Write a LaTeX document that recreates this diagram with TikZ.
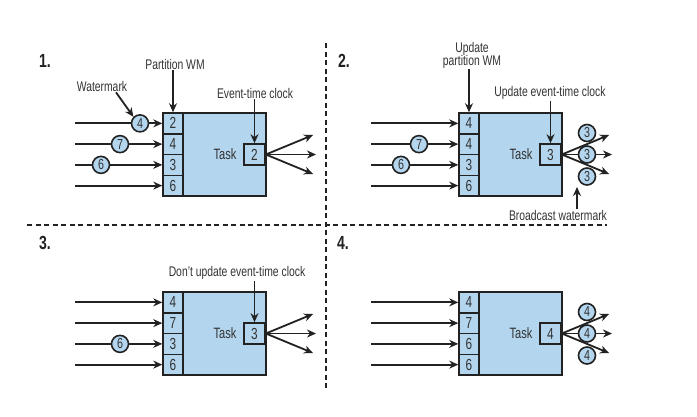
\documentclass[tikz,border=0pt]{standalone}
\usepackage{fontspec}
\setmainfont{Liberation Sans}[FakeStretch=0.74]
\usetikzlibrary{arrows.meta,shadows}
\definecolor{boxblue}{HTML}{B3D5EE}
\definecolor{ink}{HTML}{222222}
\definecolor{txt}{HTML}{333333}
\tikzset{
  lbl/.style={font=\fontsize{14}{14}\selectfont, text=txt, inner sep=1pt, align=center},
  pnum/.style={font=\fontsize{19}{19}\selectfont\bfseries, text=ink, inner sep=0pt},
  taskbox/.style={draw=ink, fill=boxblue, line width=1.7pt, minimum width=103pt, minimum height=83pt, inner sep=0pt,
    drop shadow={shadow xshift=1.3pt, shadow yshift=-1.3pt, opacity=0.35}},
  cellbox/.style={draw=ink, fill=boxblue, line width=1.5pt, minimum width=20pt, minimum height=20.75pt, inner sep=0pt,
    font=\fontsize{16}{16}\selectfont, text=txt},
  clockbox/.style={draw=ink, fill=boxblue, line width=1.7pt, minimum width=21pt, minimum height=21pt, inner sep=0pt,
    font=\fontsize{16}{16}\selectfont, text=txt},
  tasklbl/.style={font=\fontsize{15}{15}\selectfont, text=txt, inner sep=0pt},
  wm/.style={circle, draw=ink, fill=boxblue, line width=1.6pt, minimum size=17pt, inner sep=0pt,
    font=\fontsize{14.5}{14.5}\selectfont, text=txt},
  arr/.style={-{Stealth[length=9pt,width=8pt]}, line width=1.8pt, draw=ink},
  sep/.style={line width=1.6pt, draw=ink, dash pattern=on 5pt off 3.5pt}
}
\newcommand{\taskpanel}[8]{%
 \begin{scope}[shift={(#2,#3)}]
  \node[taskbox] (#1task) at (214.5,154.5) {};
  \node[cellbox] (#1c1) at (173,123.375) {#4};
  \node[cellbox] (#1c2) at (173,144.125) {#5};
  \node[cellbox] (#1c3) at (173,164.875) {#6};
  \node[cellbox] (#1c4) at (173,185.625) {#7};
  \node[clockbox] (#1clk) at (254.5,154.5) {#8};
  \node[tasklbl] (#1lbl) at (225,154) {Task};
  \coordinate (#1i1) at (75,123.375);
  \coordinate (#1i2) at (75,144.125);
  \coordinate (#1i3) at (75,164.875);
  \coordinate (#1i4) at (75,185.625);
  \draw[arr] (#1i1) -- (#1c1.west);
  \draw[arr] (#1i2) -- (#1c2.west);
  \draw[arr] (#1i3) -- (#1c3.west);
  \draw[arr] (#1i4) -- (#1c4.west);
  \coordinate (#1o1) at (313,135);
  \coordinate (#1o2) at (316,154.5);
  \coordinate (#1o3) at (313,174);
  \draw[arr] (#1clk.east) -- (#1o1);
  \draw[arr] (#1clk.east) -- (#1o2);
  \draw[arr] (#1clk.east) -- (#1o3);
 \end{scope}}
\begin{document}
\begin{tikzpicture}[x=1pt,y=-1pt]
\useasboundingbox (0,0) rectangle (697,416);
\fill[white] (0,0) rectangle (697,416);

% separators
\coordinate (vt) at (326,43);
\coordinate (vb) at (326,390);
\coordinate (hl) at (27,225);
\coordinate (hr) at (607,225);
\draw[sep] (vt) -- (vb);
\draw[sep] (hl) -- (hr);

% panel 1
\node[pnum] (n1) at (45,61) {1.};
\taskpanel{p1}{0}{0}{2}{4}{3}{6}{2}
\node[wm] (p1w1) at (140,123.375) {4};
\node[wm] (p1w2) at (120,144.125) {7};
\node[wm] (p1w3) at (101,164.875) {6};
\node[lbl] (p1lpw) at (175,64) {Partition WM};
\draw[arr] (p1c1.north |- p1lpw.south) -- (p1c1.north);
\node[lbl] (p1lwm) at (102,86) {Watermark};
\draw[arr] ([xshift=14pt]p1lwm.south) -- (p1w1.135);
\node[lbl] (p1lec) at (255,93) {Event-time clock};
\draw[arr] (p1clk.north |- p1lec.south) -- (p1clk.north);

% panel 2
\node[pnum] (n2) at (344,61) {2.};
\taskpanel{p2}{296}{0}{4}{4}{3}{6}{3}
\node[wm] (p2w2) at (419,144.125) {7};
\node[wm] (p2w3) at (401,164.875) {6};
\node[wm] (p2b1) at (587,133) {3};
\node[wm] (p2b2) at (587,154.5) {3};
\node[wm] (p2b3) at (587,176.5) {3};
\node[lbl] (p2lpw) at (472,55) {Update\\[-1pt]partition WM};
\draw[arr] (p2c1.north |- p2lpw.south) -- (p2c1.north);
\node[lbl] (p2lec) at (550,93) {Update event-time clock};
\draw[arr] (p2clk.north |- p2lec.south) -- (p2clk.north);
\node[lbl] (p2lbw) at (558,215) {Broadcast watermark};
\coordinate (p2bwtip) at (577,187);
\draw[arr] (p2bwtip |- p2lbw.north) -- (p2bwtip);

% panel 3
\node[pnum] (n3) at (45,243) {3.};
\taskpanel{p3}{0}{179}{4}{7}{3}{6}{3}
\node[wm] (p3w3) at (120,343.875) {6};
\node[lbl] (p3lec) at (237,273) {Don't update event-time clock};
\draw[arr] (p3clk.north |- p3lec.south) -- (p3clk.north);

% panel 4
\node[pnum] (n4) at (343,243) {4.};
\taskpanel{p4}{296}{179}{4}{7}{6}{6}{4}
\node[wm] (p4b1) at (587,312) {4};
\node[wm] (p4b2) at (587,333.5) {4};
\node[wm] (p4b3) at (587,355.5) {4};
\end{tikzpicture}
\end{document}
